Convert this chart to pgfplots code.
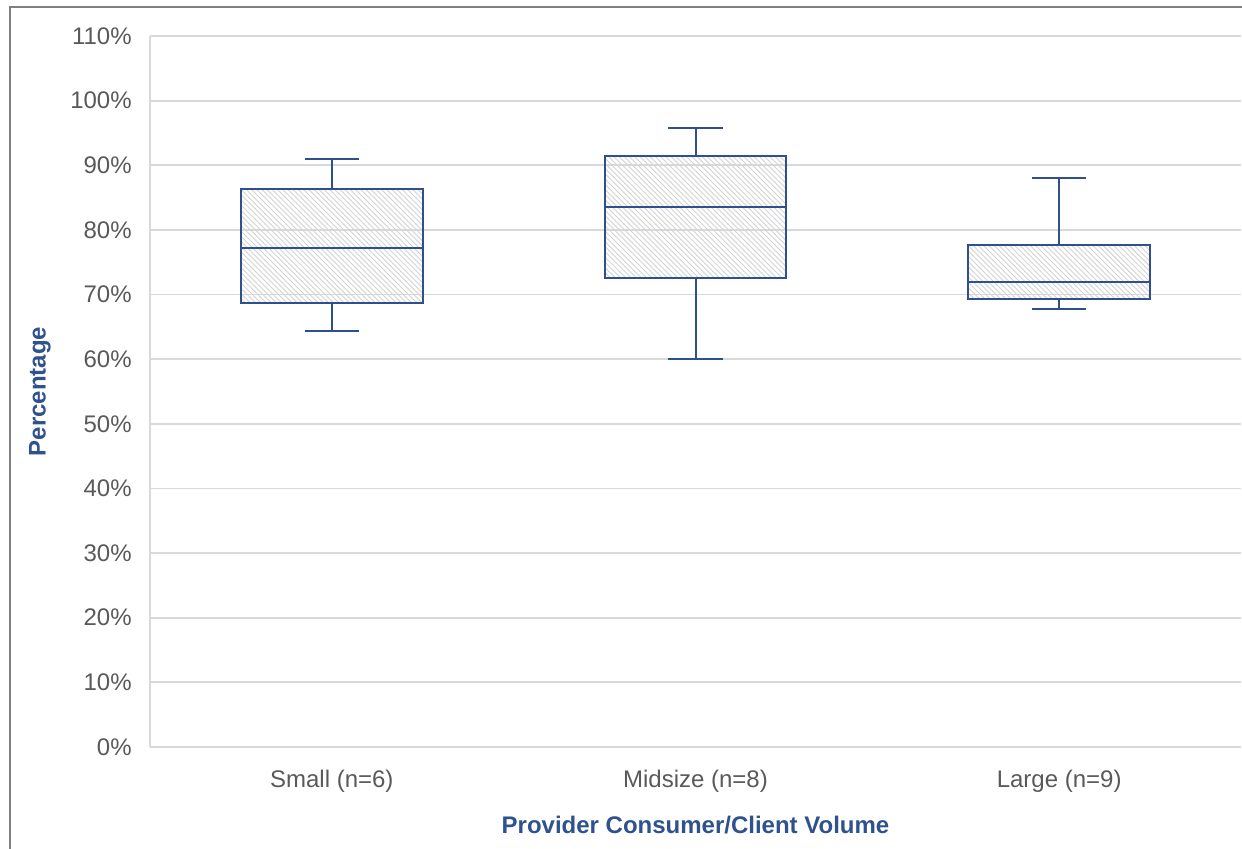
\documentclass[border=0pt]{standalone}
\usepackage{fontspec}
\setmainfont{Liberation Sans}
\usepackage{pgfplots}
\pgfplotsset{compat=1.18}
\usetikzlibrary{patterns}
\pgfdeclarepatternformonly{finehatch}{\pgfqpoint{-1pt}{-1pt}}{\pgfqpoint{3.6pt}{3.6pt}}{\pgfqpoint{2.6pt}{2.6pt}}%
{
  \pgfsetlinewidth{0.45pt}
  \pgfpathmoveto{\pgfqpoint{-0.1pt}{2.7pt}}
  \pgfpathlineto{\pgfqpoint{2.7pt}{-0.1pt}}
  \pgfusepath{stroke}
}
\definecolor{boxblue}{RGB}{47,79,143}
\definecolor{ticktext}{RGB}{89,89,89}
\definecolor{gridgray}{RGB}{217,217,217}
\definecolor{labelblue}{RGB}{47,82,143}
\definecolor{framegray}{RGB}{128,128,128}
\definecolor{hatchgray}{RGB}{212,212,212}
\begin{document}
\begin{tikzpicture}
\path[use as bounding box] (-75pt,-50.5pt) rectangle (546pt,373.5pt);
\draw[framegray, line width=0.8pt] (-70pt,-60pt) -- (-70pt,370pt) -- (560pt,370pt);
\begin{axis}[
  scale only axis, width=545.5pt, height=355.5pt,
  xmin=-0.5, xmax=2.5, ymin=0, ymax=110,
  ytick={0,10,...,110},
  /pgf/number format/assume math mode=true,
  yticklabel={\pgfmathprintnumber{\tick}\%},
  xtick={0,1,2}, xticklabels={Small (n=6), Midsize (n=8), Large (n=9)},
  axis x line=bottom, axis y line=left,
  axis line style={gridgray, line width=0.9pt, -},
  ymajorgrids, grid style={gridgray, line width=0.9pt},
  tick style={draw=none},
  tick label style={ticktext, font=\fontsize{12}{14}\selectfont},
  yticklabel style={anchor=east, xshift=-3.5pt},
  xticklabel style={anchor=north, yshift=-6pt},
  xlabel={Provider Consumer/Client Volume},
  ylabel={Percentage},
  label style={labelblue, font=\fontsize{12}{14}\selectfont\bfseries},
  xlabel style={at={(axis description cs:0.5,-0.11)}, anchor=center},
  ylabel style={at={(axis description cs:-0.1008,0.5)}, anchor=center},
  unbounded coords=jump,
  boxst/.style={draw=boxblue, line width=1pt, pattern=finehatch, pattern color=hatchgray},
  linest/.style={draw=boxblue, line width=1pt},
]
% Small (n=6): lower whisker 64.4, Q1 68.7, median 77.2, Q3 86.4, upper whisker 91.0
\addplot[boxst] coordinates {(-0.25,68.7) (0.25,68.7) (0.25,86.4) (-0.25,86.4)} -- cycle;
\addplot[linest] coordinates {(-0.25,77.2) (0.25,77.2) (nan,nan)
  (0,86.4) (0,91.0) (nan,nan) (-0.075,91.0) (0.075,91.0) (nan,nan)
  (0,68.7) (0,64.4) (nan,nan) (-0.075,64.4) (0.075,64.4)};
% Midsize (n=8): 60.1, 72.6, 83.5, 91.4, 95.7
\addplot[boxst] coordinates {(0.75,72.6) (1.25,72.6) (1.25,91.4) (0.75,91.4)} -- cycle;
\addplot[linest] coordinates {(0.75,83.5) (1.25,83.5) (nan,nan)
  (1,91.4) (1,95.7) (nan,nan) (0.925,95.7) (1.075,95.7) (nan,nan)
  (1,72.6) (1,60.1) (nan,nan) (0.925,60.1) (1.075,60.1)};
% Large (n=9): 67.8, 69.3, 71.9, 77.7, 88.1
\addplot[boxst] coordinates {(1.75,69.3) (2.25,69.3) (2.25,77.7) (1.75,77.7)} -- cycle;
\addplot[linest] coordinates {(1.75,71.9) (2.25,71.9) (nan,nan)
  (2,77.7) (2,88.1) (nan,nan) (1.925,88.1) (2.075,88.1) (nan,nan)
  (2,69.3) (2,67.8) (nan,nan) (1.925,67.8) (2.075,67.8)};
\end{axis}
\end{tikzpicture}
\end{document}
